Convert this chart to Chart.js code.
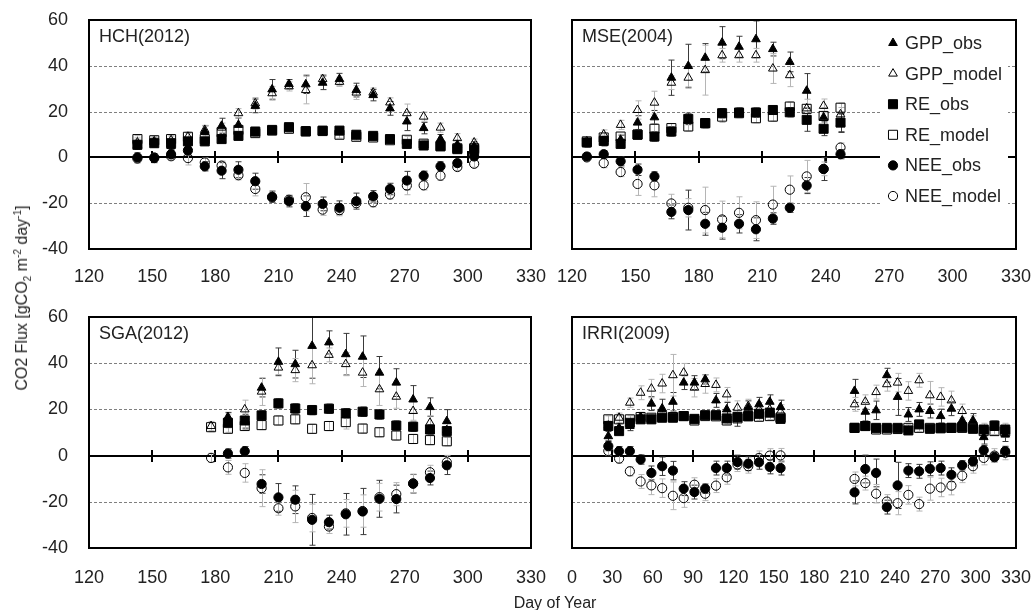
<!DOCTYPE html>
<html>
<head>
<meta charset="utf-8">
<script src="https://cdn.jsdelivr.net/npm/chart.js@4.4.0/dist/chart.umd.min.js"></script>
<style>
  body { margin: 0; background: #fff; }
  #wrap { position: relative; width: 1034px; height: 610px; font-family: "Liberation Sans", Arial, sans-serif; color: #222; }
  canvas { position: absolute; }
  .ytitle { position: absolute; left: 22px; top: 298px; transform: translate(-50%, -50%) rotate(-90deg); font-size: 16px; white-space: nowrap; }
  .xtitle { position: absolute; left: 555px; top: 603px; transform: translate(-50%, -50%); font-size: 16px; white-space: nowrap; }
  sub, sup { font-size: 10px; line-height: 0; }
</style>
</head>
<body>
<div id="wrap">
  <canvas id="hch" width="551" height="300" style="left:0;top:0"></canvas>
  <canvas id="mse" width="483" height="300" style="left:551px;top:0"></canvas>
  <canvas id="sga" width="551" height="310" style="left:0;top:300px"></canvas>
  <canvas id="irri" width="483" height="310" style="left:551px;top:300px"></canvas>
  <div class="ytitle">CO2 Flux [gCO<sub>2</sub> m<sup>-2</sup> day<sup>-1</sup>]</div>
  <div class="xtitle">Day of Year</div>
</div>
<script>
const FONT = '"Liberation Sans", Arial, sans-serif';
const INK = '#222';

// HCH (2012)
const hchDays = [143, 151, 159, 167, 175, 183, 191, 199, 207, 215, 223, 231, 239, 247, 255, 263, 271, 279, 287, 295, 303];
const hchGppObs = [5.5, 6.5, 5, 4.5, 11.3, 13.8, 14.2, 22.5, 29.7, 32, 31.9, 32.6, 34.2, 29.4, 27.2, 21.4, 15.7, 12.8, 8, 5.5, 4.8];
const hchGppModel = [6.5, 7, 7.5, 9, 12, 13, 19.3, 23.6, 28, 31, 29.4, 34.2, 33, 28.3, 28.3, 24, 19.3, 17.8, 13, 8.4, 6.5];
const hchReObs = [5.5, 6.2, 6.2, 7, 7, 8, 9.4, 11.3, 12, 13.2, 11.3, 11.7, 11.7, 9.9, 9.4, 8, 5.9, 5.2, 4.8, 3.6, 3.3];
const hchReModel = [8, 7.5, 8, 9, 8, 11, 12, 10.6, 11.7, 12.5, 11.5, 11.5, 9.9, 9, 8.7, 7.5, 7.7, 6, 5, 4, 4];
const hchNeeObs = [0, -0.3, 1.4, 3, -3.9, -5.8, -5.4, -10.4, -17.2, -19.1, -21.3, -20.3, -22, -19.1, -17, -13.8, -10.1, -8, -3.9, -2.5, 0.4];
const hchNeeModel = [-0.5, 0, 0.5, -0.3, -2.2, -3.6, -7.8, -13.8, -17.5, -18.5, -17.4, -22.8, -23, -20, -19.6, -16.2, -12.3, -12.2, -8, -4.2, -2.8];
const hchGppObsErr = [2, 2, 2, 2, 2.5, 3.3, 3, 3, 4.3, 2, 4, 3, 2.5, 3, 2.5, 3, 4, 2.5, 2, 2, 2];
const hchGppModelErr = [2, 1.5, 1.5, 2, 2, 2, 2, 2.5, 3, 2, 6, 2, 2, 3, 2, 2, 4, 2, 2, 2, 1.5];
const hchReObsErr = [1.5, 1.5, 1.5, 1.5, 1.5, 1.5, 1.5, 1.5, 1.5, 1.5, 1.5, 1.5, 1.5, 1.5, 1.5, 1.5, 1.5, 1.5, 1.5, 1.5, 1.5];
const hchReModelErr = [1.5, 1.5, 1.5, 1.5, 1.5, 1.5, 1.5, 1.5, 1.5, 1.5, 1.5, 1.5, 1.5, 1.5, 1.5, 1.5, 1.5, 1.5, 1.5, 1.5, 1.5];
const hchNeeObsErr = [2, 2, 2, 2, 2, 3.5, 3.5, 3.5, 2.5, 2.5, 4.5, 3, 3, 3.5, 2.5, 2.5, 4, 2, 2, 1.5, 1.5];
const hchNeeModelErr = [2, 1.5, 1.5, 3, 2, 2, 2, 3, 2, 2, 6, 2.5, 2.5, 2, 2, 2, 4, 2, 2, 1.5, 1.5];

// MSE (2004)
const mseDays = [127, 135, 143, 151, 159, 167, 175, 183, 191, 199, 207, 215, 223, 231, 239, 247];
const mseGppObs = [6, 7, 7.7, 15.2, 17.5, 34.8, 39.9, 43.5, 50.1, 48.3, 51.6, 47.3, 41.7, 29.1, 17.5, 14.9];
const mseGppModel = [7, 10, 14.2, 20.7, 23.9, 32.6, 34.8, 38.1, 44.6, 44.6, 44.6, 38.8, 35.9, 21.4, 22.5, 18.8];
const mseReObs = [6.5, 7.2, 5.9, 9.9, 9.1, 11.3, 16.8, 14.9, 19.3, 19.6, 19.6, 20.7, 19.7, 16.4, 12.5, 15.2];
const mseReModel = [7, 8.7, 9.1, 10, 12.5, 12.8, 13.5, 15, 17.8, 19.3, 17.1, 17.8, 22.2, 21.2, 18.1, 21.7];
const mseNeeObs = [0.4, 1.4, -1.7, -5.4, -8.3, -23.8, -23, -29, -30.7, -29, -31.4, -26.7, -22, -12.3, -5.1, 1.4];
const mseNeeModel = [0, -2.5, -6.4, -11.6, -12.2, -20.1, -22, -23, -27.1, -24.2, -27.4, -20.6, -14.1, -8.3, -5, 4.3];
const mseGppObsErr = [1.5, 2, 2, 3, 3, 7.7, 9.5, 6.2, 7, 4.6, 8, 3, 4.3, 7.5, 4, 4];
const mseGppModelErr = [1.5, 2, 2, 4, 5, 3, 4, 10.9, 3, 3, 3, 6.5, 5, 4, 3, 3];
const mseReObsErr = [1, 1.5, 1.5, 1.5, 2, 2, 2.5, 2, 2, 2, 2, 1.5, 2, 5, 3, 4];
const mseReModelErr = [1, 1, 1, 2, 2, 2, 2, 2, 2.5, 2, 2, 2, 2, 2, 2, 2];
const mseNeeObsErr = [1.5, 1.5, 2, 2.5, 2, 3, 8.7, 5, 5, 4, 5, 2.5, 2, 3.5, 5, 2];
const mseNeeModelErr = [1, 2, 2, 5, 5, 4, 4, 10, 8, 7, 8, 8, 6, 7, 3, 2];

// SGA (2012)
const sgaDays = [178, 186, 194, 202, 210, 218, 226, 234, 242, 250, 258, 266, 274, 282, 290];
const sgaGppObs = [null, 16.7, 14.9, 29.4, 40.6, 39.6, 47.5, 49, 43.9, 42.8, 35.9, 31.6, 24.3, 21, 14.9];
const sgaGppModel = [12.8, 15, 20, 27.7, 38.1, 37, 39.1, 43.6, 39.6, 35.9, 28.7, 25.5, 19.3, 14.2, 11];
const sgaReObs = [null, 14.2, 15.2, 17.4, 22.6, 20.4, 19.7, 20.3, 18.3, 19, 17.8, 13, 12.5, 11.3, 10.6];
const sgaReModel = [12.3, 11.6, 12.8, 13.2, 15.2, 15.7, 11.6, 12.8, 14.5, 11.7, 10.1, 8.7, 7.2, 6.7, 6.2];
const sgaNeeObs = [null, 0.9, 1.9, -12.3, -18.1, -19.1, -27.8, -28.8, -25.4, -24.2, -18.7, -18.8, -12.2, -9.7, -4.2];
const sgaNeeModel = [-1, -5.1, -7.5, -14.1, -22.8, -22, -27, -30.7, -25, -24, -18, -16.7, -12, -7.2, -2.9];
const sgaGppObsErr = [null, 2, 3, 4, 6, 6, 14, 5, 9, 9, 7, 6, 6, 4, 5];
const sgaGppModelErr = [2, 3, 4, 6, 3, 5, 8, 3, 5, 6, 7, 5, 4, 3, 3];
const sgaReObsErr = [null, 1.5, 1.5, 2, 2, 2, 2, 2, 2, 2, 2, 2, 2, 2, 2];
const sgaReModelErr = [2, 1.5, 1.5, 2, 2, 2, 2, 2, 3, 2, 2, 2, 2, 2, 2];
const sgaNeeObsErr = [null, 2, 2, 4, 6, 6, 11, 3, 9, 10, 8, 6, 4, 3, 4];
const sgaNeeModelErr = [2, 3, 4, 8, 3, 7, 6, 3, 6, 7, 6, 5, 4, 3, 3];

// IRRI (2009), dry and wet season
const irriDays = [27, 35, 43, 51, 59, 67, 75, 83, 91, 99, 107, 115, 123, 131, 139, 147, 155,
                  210, 218, 226, 234, 242, 250, 258, 266, 274, 282, 290, 298, 306, 314, 322];
const irriGppObs = [8.4, 12, 12.8, 16.7, 22.5, 20.4, 23.3, 31.6, 31.6, 33, 23.9, 20, 15.7, 20.7, 22.2, 23.3, 21,
                    28, 19, 19.6, 34.8, 25.4, 17.8, 20, 19.3, 17.1, 20.3, 15.2, 15.2, 8, 12, 9.1];
const irriGppModel = [13, 16.4, 22.9, 27.2, 29, 31.2, 34.8, 35.9, 29.4, 31, 30.6, 26.5, 20.7, 21.4, 20, 20, 19,
                      22.2, 23.3, 27.5, 30.9, 31.6, 28, 32.6, 26.1, 25.4, 23.9, 19.3, 14.2, 11, 12, 11];
const irriReObs = [12.8, 10.6, 14.2, 15.7, 15.7, 16.4, 16.4, 17.1, 15.9, 17.5, 17.5, 16.1, 16.8, 17.1, 18.1, 18.6, 15.9,
                   12, 12.8, 12, 12, 12, 10.9, 13.5, 11.6, 12, 12, 12.3, 11.6, 11.3, 13, 11.3];
const irriReModel = [15.7, 15.7, 15.7, 16.7, 16.4, 17.1, 16.7, 17.1, 15.2, 17.1, 17, 15.2, 16.1, 17, 16.8, 17.1, 16.5,
                     12, 12.8, 11.3, 11.3, 11.5, 12, 12, 12, 11.8, 12, 12, 12, 10.6, 10.6, 10.5];
const irriNeeObs = [4.1, 1.9, 1.9, -1.7, -7.5, -4.6, -6.5, -14.3, -15.8, -14.3, -5.4, -5.4, -2.8, -3.5, -2.9, -4.9, -5.4,
                    -15.9, -5.8, -7.5, -22.3, -12.9, -6.5, -6.8, -5.7, -5.4, -8.3, -4.2, -2.5, 2.3, -0.7, 1.9];
const irriNeeModel = [2, -1.3, -6.8, -11.2, -12.9, -14.1, -17.4, -18.4, -12.6, -16.5, -13, -9.4, -3.9, -4.6, -1, 0, 0.1,
                      -10.1, -11.9, -16.5, -19.9, -20.6, -17, -21, -14.3, -13.8, -13, -8.7, -4.6, -1, 0, 1.2];
const irriGppObsErr = [2, 2, 2, 2, 3, 4, 4, 3, 3, 2, 3, 3, 3, 3, 3, 3, 3, 5, 4, 4, 3, 8, 3, 3, 3, 3, 3, 3, 3, 3, 3, 3];
const irriGppModelErr = [2, 2, 2, 3, 4, 4, 9, 4, 4, 4, 3, 3, 3, 3, 3, 3, 3, 3, 3, 3, 3, 4, 4, 3, 6, 4, 4, 3, 3, 3, 3, 3];
const irriReObsErr = [1.5, 1.5, 1.5, 1.5, 1.5, 1.5, 1.5, 1.5, 1.5, 1.5, 1.5, 1.5, 1.5, 1.5, 1.5, 1.5, 1.5, 1.5, 1.5, 1.5, 1.5, 1.5, 1.5, 1.5, 1.5, 1.5, 1.5, 1.5, 1.5, 1.5, 1.5, 1.5];
const irriReModelErr = [1.5, 1.5, 1.5, 1.5, 1.5, 1.5, 1.5, 1.5, 1.5, 1.5, 1.5, 1.5, 1.5, 1.5, 1.5, 1.5, 1.5, 1.5, 1.5, 1.5, 1.5, 1.5, 1.5, 1.5, 1.5, 1.5, 1.5, 1.5, 1.5, 1.5, 1.5, 1.5];
const irriNeeObsErr = [2, 2, 2, 2, 3, 4, 4, 3, 3, 2, 3, 3, 3, 3, 3, 3, 3, 5, 6, 6, 3, 10, 3, 3, 3, 3, 3, 2, 2, 2, 2, 2];
const irriNeeModelErr = [2, 2, 2, 3, 4, 4, 6, 4, 3, 3, 3, 3, 3, 3, 3, 3, 3, 3, 3, 4, 3, 5, 4, 3, 5, 4, 4, 3, 3, 3, 3, 3];

const yTicks = { min: -40, max: 60, step: 20 };

// marker look of the six series, same order everywhere
const seriesStyle = [
  { label: 'GPP_obs',   pointStyle: 'triangle', radius: 5,   filled: true },
  { label: 'GPP_model', pointStyle: 'triangle', radius: 5,   filled: false },
  { label: 'RE_obs',    pointStyle: 'rect',     radius: 6.4, filled: true },
  { label: 'RE_model',  pointStyle: 'rect',     radius: 6.4, filled: false },
  { label: 'NEE_obs',   pointStyle: 'circle',   radius: 4.6, filled: true },
  { label: 'NEE_model', pointStyle: 'circle',   radius: 4.6, filled: false }
];

function drawMarker(ctx, st, x, y) {
  ctx.save();
  ctx.fillStyle = st.filled ? '#000' : 'rgba(0,0,0,0)';
  ctx.strokeStyle = '#000';
  ctx.lineWidth = 1;
  Chart.helpers.drawPoint(ctx, { pointStyle: st.pointStyle, radius: st.radius, rotation: 0, borderWidth: 1 }, x, y);
  ctx.restore();
}

// grid, zero line, error bars, frame, site name and legend
const panelDecor = {
  id: 'panelDecor',
  beforeDatasetsDraw(chart, args, o) {
    const { ctx, chartArea: a, scales: { x, y } } = chart;
    ctx.save();
    ctx.strokeStyle = '#7f7f7f';
    ctx.lineWidth = 1;
    ctx.setLineDash([3, 2]);
    y.ticks.forEach(t => {
      if (t.value === 0 || t.value === y.min || t.value === y.max) return;
      const py = Math.round(y.getPixelForValue(t.value)) + 0.5;
      ctx.beginPath(); ctx.moveTo(a.left, py); ctx.lineTo(a.right, py); ctx.stroke();
    });
    ctx.setLineDash([]);

    // zero line with day ticks
    const y0 = Math.round(y.getPixelForValue(0));
    ctx.strokeStyle = '#000';
    ctx.lineWidth = 2;
    ctx.beginPath(); ctx.moveTo(a.left, y0); ctx.lineTo(a.right, y0); ctx.stroke();
    x.ticks.forEach(t => {
      if (t.value === x.min || t.value === x.max) return;
      const px = Math.round(x.getPixelForValue(t.value));
      ctx.beginPath(); ctx.moveTo(px, y0 - 6); ctx.lineTo(px, y0 + 6); ctx.stroke();
    });

    // error bars
    ctx.beginPath(); ctx.rect(a.left, a.top, a.width, a.height); ctx.clip();
    ctx.lineWidth = 1;
    chart.data.datasets.forEach(ds => {
      ctx.strokeStyle = ds.obs ? '#3a3a3a' : '#b5b5b5';
      ds.data.forEach((p, j) => {
        const e = ds.errors[j];
        if (p.y == null || e == null) return;
        const px = Math.round(x.getPixelForValue(p.x)) + 0.5;
        const top = y.getPixelForValue(p.y + e);
        const bot = y.getPixelForValue(p.y - e);
        ctx.beginPath();
        ctx.moveTo(px, top); ctx.lineTo(px, bot);
        ctx.moveTo(px - 3, top); ctx.lineTo(px + 3, top);
        ctx.moveTo(px - 3, bot); ctx.lineTo(px + 3, bot);
        ctx.stroke();
      });
    });
    ctx.restore();
  },
  afterDraw(chart, args, o) {
    const { ctx, chartArea: a } = chart;
    ctx.save();
    if (o.legend) {
      ctx.fillStyle = '#fff';
      ctx.fillRect(a.right - 136, a.top + 5, 128, 190);
      ctx.font = '18px ' + FONT;
      ctx.textBaseline = 'middle';
      ctx.textAlign = 'left';
      seriesStyle.forEach((st, i) => {
        const ly = a.top + 23 + i * 30.6;
        drawMarker(ctx, st, a.right - 123, ly);
        ctx.fillStyle = INK;
        ctx.fillText(st.label, a.right - 111, ly + 1);
      });
    }
    ctx.strokeStyle = '#000';
    ctx.lineWidth = 2;
    ctx.strokeRect(a.left, a.top, a.width, a.height);
    ctx.fillStyle = INK;
    ctx.font = '18px ' + FONT;
    ctx.textBaseline = 'middle';
    ctx.textAlign = 'left';
    ctx.fillText(o.title, a.left + 10, a.top + 17);
    ctx.restore();
  }
};

function makePanel(id, p) {
  const values = [p.gppObs, p.gppModel, p.reObs, p.reModel, p.neeObs, p.neeModel];
  const errors = [p.gppObsErr, p.gppModelErr, p.reObsErr, p.reModelErr, p.neeObsErr, p.neeModelErr];
  const datasets = seriesStyle.map((st, i) => ({
    label: st.label,
    data: p.days.map((d, j) => ({ x: d, y: values[i][j] })),
    errors: errors[i],
    obs: st.filled,
    showLine: false,
    pointStyle: st.pointStyle,
    pointRadius: st.radius,
    pointBackgroundColor: st.filled ? '#000' : 'rgba(0,0,0,0)',
    pointBorderColor: '#000',
    pointBorderWidth: 1,
    order: seriesStyle.length - i
  }));

  // tick gaps go through tickLength (not ticks.padding) so they do not widen the plot margins
  return new Chart(document.getElementById(id), {
    type: 'scatter',
    data: { datasets },
    plugins: [panelDecor],
    options: {
      responsive: false,
      animation: false,
      events: [],
      layout: { padding: { left: 0, right: p.padRight, top: p.padTop, bottom: 0 } },
      plugins: {
        legend: { display: false },
        tooltip: { enabled: false },
        panelDecor: { title: p.title, legend: !!p.legend }
      },
      scales: {
        x: {
          type: 'linear',
          min: p.xMin, max: p.xMax,
          grid: { display: false, drawTicks: true, tickLength: p.xPad },
          border: { display: false },
          ticks: { stepSize: 30, autoSkip: false, maxRotation: 0, padding: 0, color: INK, font: { size: 18, family: FONT } },
          afterFit: s => { s.height = p.xHeight; }
        },
        y: {
          min: yTicks.min, max: yTicks.max,
          grid: { display: false, drawTicks: true, tickLength: 21 },
          border: { display: false },
          ticks: { display: p.showY, stepSize: yTicks.step, padding: 0, color: INK, font: { size: 18, family: FONT } },
          afterFit: s => { s.width = p.yWidth; }
        }
      }
    }
  });
}

makePanel('hch', {
  title: 'HCH(2012)', days: hchDays, xMin: 120, xMax: 330,
  gppObs: hchGppObs, gppModel: hchGppModel, reObs: hchReObs, reModel: hchReModel, neeObs: hchNeeObs, neeModel: hchNeeModel,
  gppObsErr: hchGppObsErr, gppModelErr: hchGppModelErr, reObsErr: hchReObsErr, reModelErr: hchReModelErr,
  neeObsErr: hchNeeObsErr, neeModelErr: hchNeeModelErr,
  showY: true, yWidth: 89, padRight: 20, padTop: 20, xHeight: 51, xPad: 17
});
makePanel('mse', {
  title: 'MSE(2004)', days: mseDays, xMin: 120, xMax: 330, legend: true,
  gppObs: mseGppObs, gppModel: mseGppModel, reObs: mseReObs, reModel: mseReModel, neeObs: mseNeeObs, neeModel: mseNeeModel,
  gppObsErr: mseGppObsErr, gppModelErr: mseGppModelErr, reObsErr: mseReObsErr, reModelErr: mseReModelErr,
  neeObsErr: mseNeeObsErr, neeModelErr: mseNeeModelErr,
  showY: false, yWidth: 21, padRight: 18, padTop: 20, xHeight: 51, xPad: 17
});
makePanel('sga', {
  title: 'SGA(2012)', days: sgaDays, xMin: 120, xMax: 330,
  gppObs: sgaGppObs, gppModel: sgaGppModel, reObs: sgaReObs, reModel: sgaReModel, neeObs: sgaNeeObs, neeModel: sgaNeeModel,
  gppObsErr: sgaGppObsErr, gppModelErr: sgaGppModelErr, reObsErr: sgaReObsErr, reModelErr: sgaReModelErr,
  neeObsErr: sgaNeeObsErr, neeModelErr: sgaNeeModelErr,
  showY: true, yWidth: 89, padRight: 20, padTop: 17, xHeight: 62, xPad: 19
});
makePanel('irri', {
  title: 'IRRI(2009)', days: irriDays, xMin: 0, xMax: 330,
  gppObs: irriGppObs, gppModel: irriGppModel, reObs: irriReObs, reModel: irriReModel, neeObs: irriNeeObs, neeModel: irriNeeModel,
  gppObsErr: irriGppObsErr, gppModelErr: irriGppModelErr, reObsErr: irriReObsErr, reModelErr: irriReModelErr,
  neeObsErr: irriNeeObsErr, neeModelErr: irriNeeModelErr,
  showY: false, yWidth: 21, padRight: 18, padTop: 17, xHeight: 62, xPad: 19
});
</script>
</body>
</html>
